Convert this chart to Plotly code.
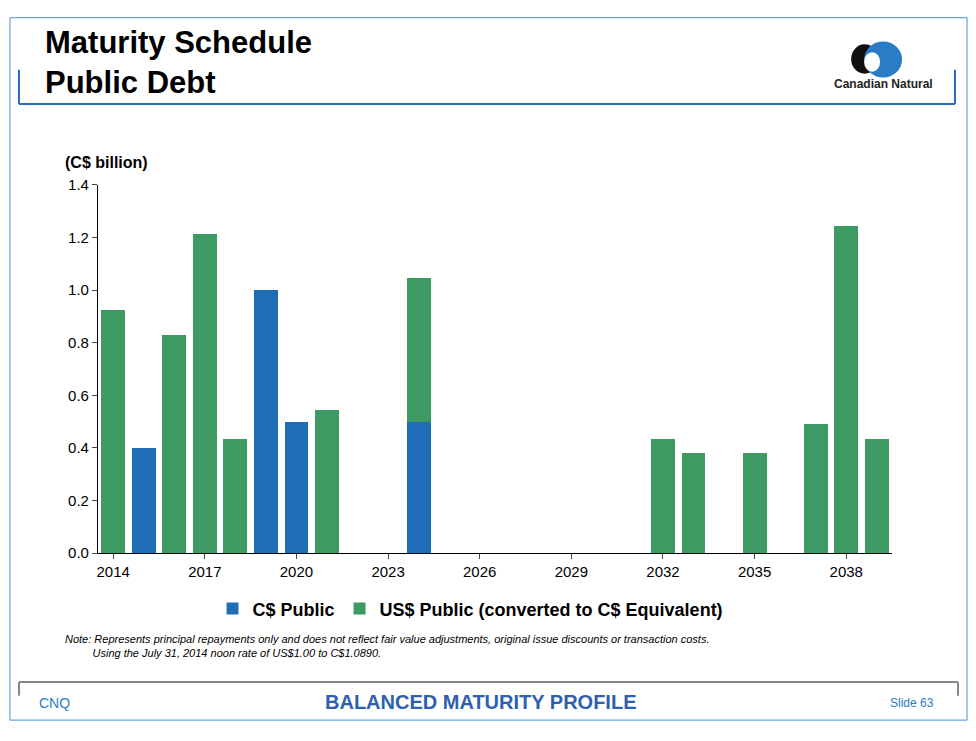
import plotly.graph_objects as go

years_cad = [2015, 2019, 2020, 2024]
cad_vals = [0.40, 1.00, 0.50, 0.50]
years_usd = [2014, 2016, 2017, 2018, 2021, 2024, 2032, 2033, 2035, 2037, 2038, 2039]
usd_vals = [0.925, 0.83, 1.215, 0.435, 0.545, 0.545, 0.435, 0.38, 0.38, 0.49, 1.245, 0.435]
tick_years = [2014, 2017, 2020, 2023, 2026, 2029, 2032, 2035, 2038]
y_ticks = [0, 0.2, 0.4, 0.6, 0.8, 1.0, 1.2, 1.4]

OFF = 8
W, H = 960, 725
def px(x): return (x - OFF) / W
def py(y): return 1 - (y - OFF) / H

BLUE = "#1f6db5"
GREEN = "#3d9a63"

fig = go.Figure()
fig.add_bar(x=years_cad, y=cad_vals, name="<b>C$ Public</b>", marker_color=BLUE, width=0.78)
fig.add_bar(x=years_usd, y=usd_vals, name="<b>US$ Public (converted to C$ Equivalent)</b>", marker_color=GREEN, width=0.78)

P = dict(xref="paper", yref="paper")
shapes = [
    dict(type="rect", **P, x0=0.001, x1=0.999, y0=py(728), y1=0.999, line=dict(color="#4a90d0", width=1)),
    dict(type="line", **P, x0=px(18), x1=px(18), y0=py(62), y1=py(97), line=dict(color="#2a6db8", width=2)),
    dict(type="line", **P, x0=px(18), x1=px(955), y0=py(97), y1=py(97), line=dict(color="#2a6db8", width=2)),
    dict(type="line", **P, x0=px(955), x1=px(955), y0=py(62), y1=py(97), line=dict(color="#2a6db8", width=2)),
    dict(type="line", **P, x0=px(18), x1=px(958), y0=py(689), y1=py(689), line=dict(color="#888", width=2)),
    dict(type="line", **P, x0=px(18), x1=px(18), y0=py(689), y1=py(703), line=dict(color="#888", width=2)),
    dict(type="line", **P, x0=px(958), x1=px(958), y0=py(689), y1=py(703), line=dict(color="#888", width=2)),
    dict(type="circle", **P, x0=px(851), x1=px(878), y0=py(66), y1=py(36), fillcolor="#111", line=dict(width=0)),
    dict(type="circle", **P, x0=px(864), x1=px(902), y0=py(70), y1=py(33), fillcolor="#2a7cc7", line=dict(width=0)),
    dict(type="circle", **P, x0=px(864), x1=px(880), y0=py(64), y1=py(44), fillcolor="white", line=dict(width=0)),
]

ann = [
    dict(text="<b>Maturity Schedule<br>Public Debt</b>", x=px(42), y=py(14), xanchor="left", yanchor="top",
         font=dict(size=31, color="black", family="Arial"), align="left"),
    dict(text="<b>Canadian Natural</b>", x=px(883), y=py(77), xanchor="center", yanchor="middle",
         font=dict(size=12, color="#222", family="Arial")),
    dict(text="<b>(C$ billion)</b>", x=px(62), y=py(157), xanchor="left", yanchor="middle",
         font=dict(size=16, color="black", family="Arial")),
    dict(text="<i>Note: Represents principal repayments only and does not reflect fair value adjustments, original issue discounts or transaction costs.<br>         Using the July 31, 2014 noon rate of US$1.00 to C$1.0890.</i>",
         x=px(62), y=py(652), xanchor="left", yanchor="middle", align="left",
         font=dict(size=11, color="black", family="Arial")),
    dict(text="CNQ", x=px(36), y=py(710), xanchor="left", yanchor="middle", font=dict(size=14, color="#2a7cc7", family="Arial")),
    dict(text="<b>BALANCED MATURITY PROFILE</b>", x=px(480), y=py(709), xanchor="center", yanchor="middle",
         font=dict(size=20, color="#2e5fb0", family="Arial")),
    dict(text="Slide 63", x=px(936), y=py(710), xanchor="right", yanchor="middle", font=dict(size=12, color="#2a7cc7", family="Arial")),
]
for a in ann:
    a.update(xref="paper", yref="paper", showarrow=False)

fig.update_layout(
    width=W, height=H, margin=dict(l=0, r=0, t=0, b=0),
    paper_bgcolor="white", plot_bgcolor="white",
    barmode="stack", showlegend=True,
    legend=dict(orientation="h", x=px(470), y=py(614), xanchor="center", yanchor="middle",
                font=dict(size=18, family="Arial", color="black"), itemwidth=30, traceorder="normal"),
    xaxis=dict(domain=[px(97), px(892)], range=[2013.5, 2039.5], tickvals=tick_years,
               ticks="outside", ticklen=5, showline=True, linecolor="black", showgrid=False,
               tickfont=dict(size=15, family="Arial", color="black")),
    yaxis=dict(domain=[py(557), py(180)], range=[0, 1.4], tickvals=y_ticks, tickformat=".1f",
               ticks="outside", ticklen=5, showline=True, linecolor="black", showgrid=False,
               zeroline=False, tickfont=dict(size=15, family="Arial", color="black")),
    shapes=shapes, annotations=ann,
)
fig.update_traces(marker_line_width=0)
fig.write_html("out.html")
